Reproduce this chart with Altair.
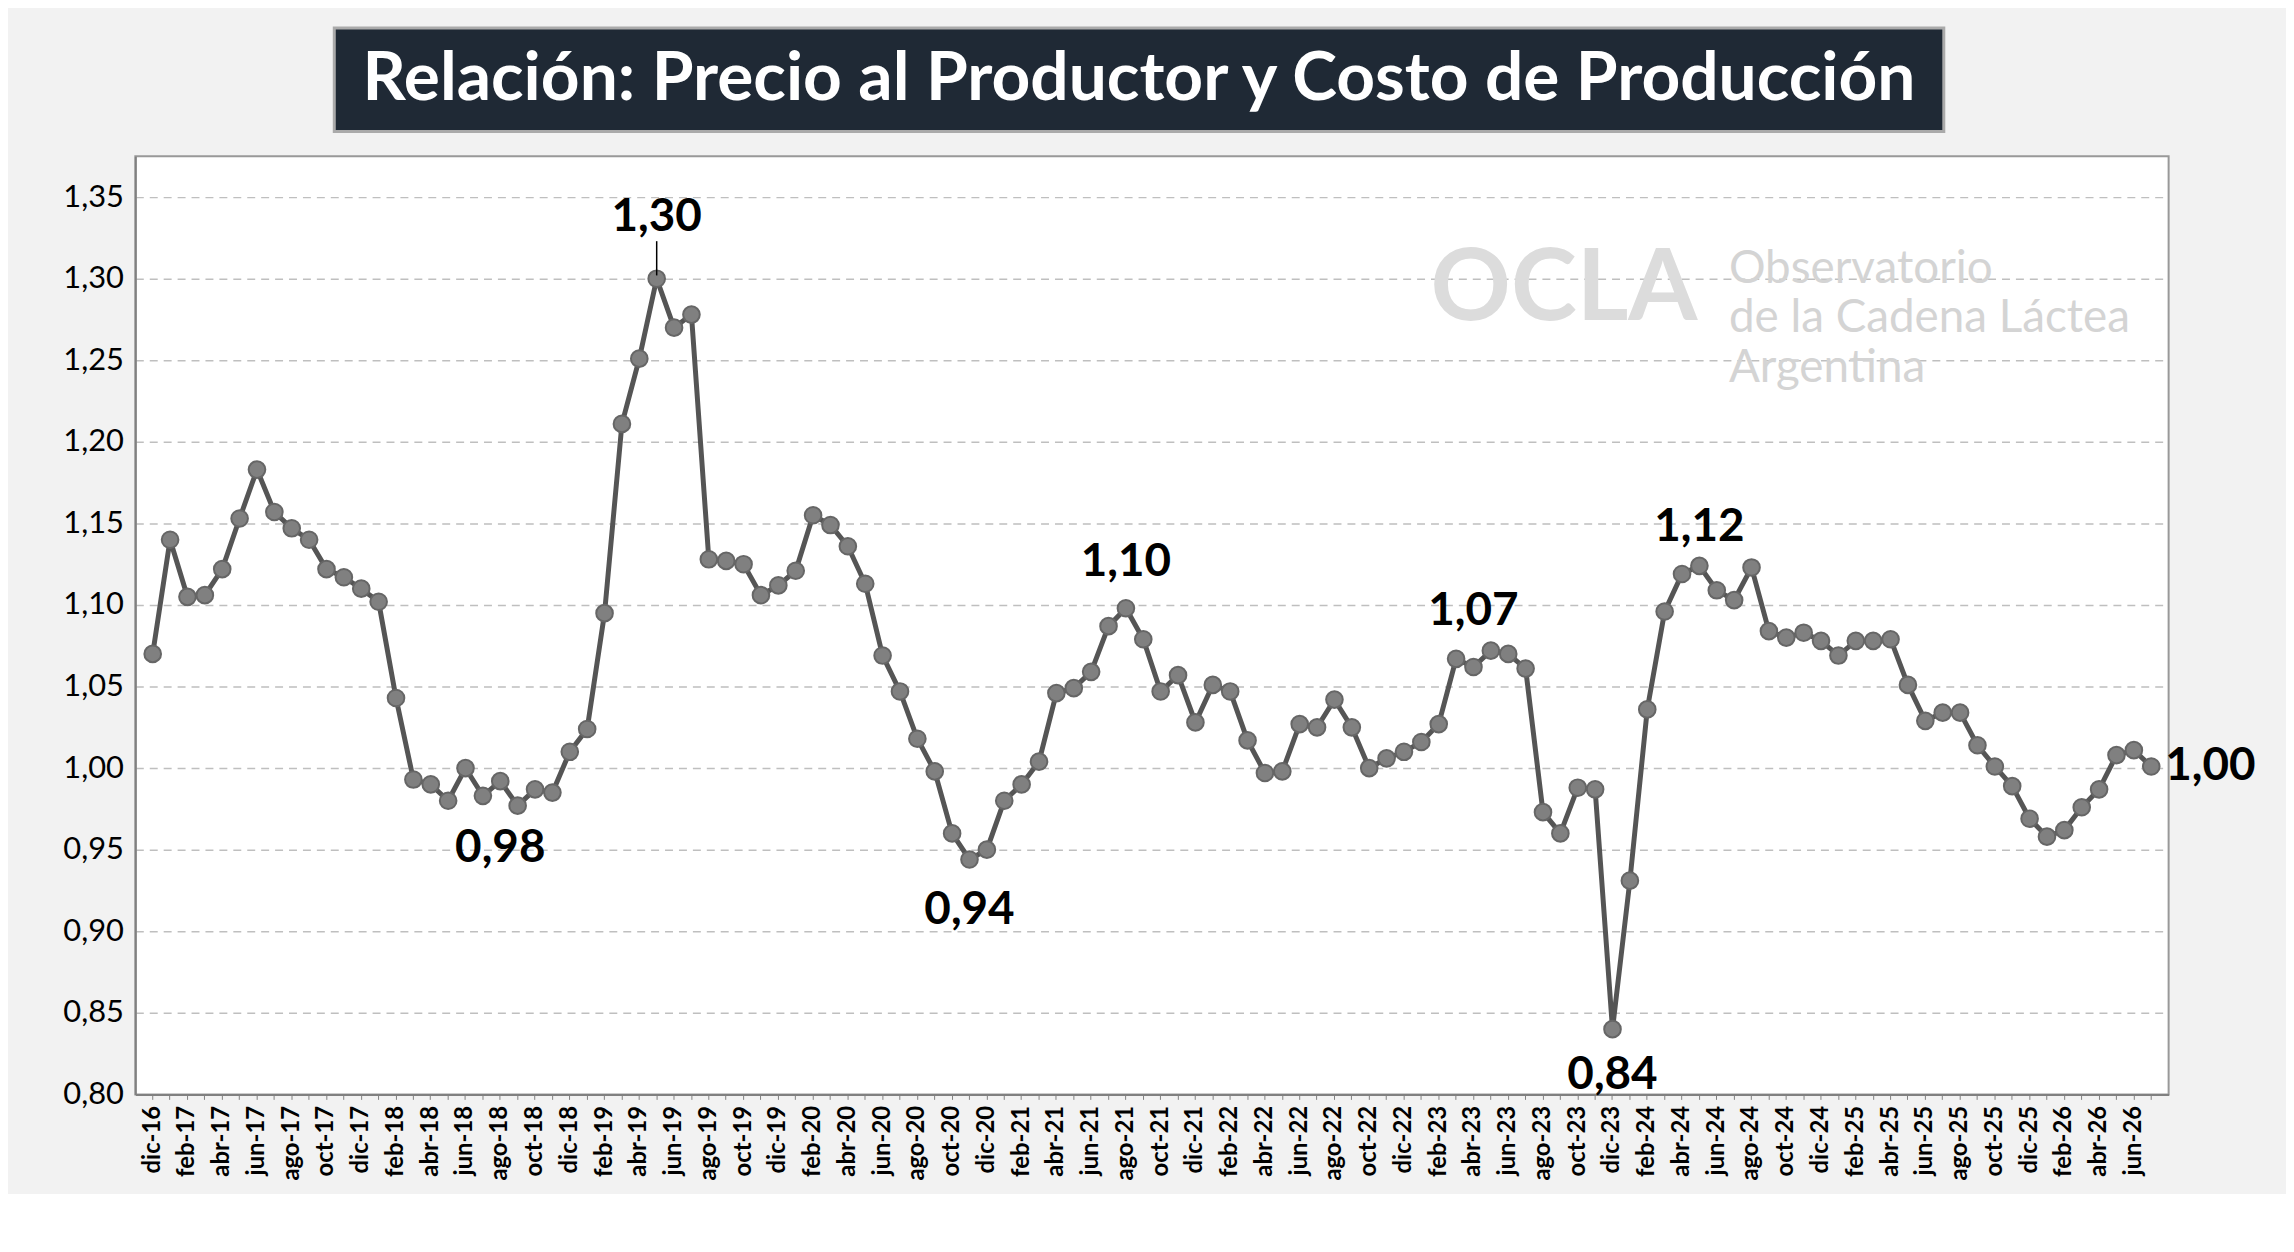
import altair as alt
import pandas as pd

meses = ["ene", "feb", "mar", "abr", "may", "jun", "jul", "ago", "sep", "oct", "nov", "dic"]
etiquetas = ["dic-16"] + [f"{m}-{a}" for a in range(17, 27) for m in meses][:115]

valores = [
    1.070,
    1.140, 1.105, 1.106, 1.122, 1.153, 1.183, 1.157, 1.147, 1.140, 1.122, 1.117, 1.110,
    1.102, 1.043, 0.993, 0.990, 0.980, 1.000, 0.983, 0.992, 0.977, 0.987, 0.985, 1.010,
    1.024, 1.095, 1.211, 1.251, 1.300, 1.270, 1.278, 1.128, 1.127, 1.125, 1.106, 1.112,
    1.121, 1.155, 1.149, 1.136, 1.113, 1.069, 1.047, 1.018, 0.998, 0.960, 0.944, 0.950,
    0.980, 0.990, 1.004, 1.046, 1.049, 1.059, 1.087, 1.098, 1.079, 1.047, 1.057, 1.028,
    1.051, 1.047, 1.017, 0.997, 0.998, 1.027, 1.025, 1.042, 1.025, 1.000, 1.006, 1.010,
    1.016, 1.027, 1.067, 1.062, 1.072, 1.070, 1.061, 0.973, 0.960, 0.988, 0.987, 0.840,
    0.931, 1.036, 1.096, 1.119, 1.124, 1.109, 1.103, 1.123, 1.084, 1.080, 1.083, 1.078,
    1.069, 1.078, 1.078, 1.079, 1.051, 1.029, 1.034, 1.034, 1.014, 1.001, 0.989, 0.969,
    0.958, 0.962, 0.976, 0.987, 1.008, 1.011, 1.001,
]

# etiquetas destacadas
dest_mes = ["may-19", "ago-18", "nov-20", "ago-21", "abr-23", "dic-23", "may-24", "jul-26"]
dest_txt = ["1,30", "0,98", "0,94", "1,10", "1,07", "0,84", "1,12", "1,00"]
dest_val = [1.338, 0.951, 0.913, 1.126, 1.096, 0.812, 1.148, 1.001]

df = pd.DataFrame({"mes": etiquetas, "valor": valores})
dd = pd.DataFrame({"mes": dest_mes, "txt": dest_txt, "valor": dest_val})

fuente = "Lato"
ocultar = "indexof(['ene','mar','may','jul','sep','nov'], split(datum.value,'-')[0]) >= 0 ? '' : datum.label"

x = alt.X("mes:N", sort=etiquetas, title=None,
          scale=alt.Scale(paddingOuter=0.5),
          axis=alt.Axis(labelAngle=-90, labelExpr=ocultar, labelOverlap=False,
                        labelFont=fuente, labelFontSize=24, labelFontWeight="bold",
                        labelColor="black", domainColor="#808080", tickColor="#808080",
                        domainWidth=2, labelPadding=6))
y = alt.Y("valor:Q", title=None,
          scale=alt.Scale(domain=[0.80, 1.375], nice=False, zero=False),
          axis=alt.Axis(values=[0.80 + 0.05 * i for i in range(12)],
                        labelExpr="replace(format(datum.value,'.2f'),'.',',')",
                        labelFont=fuente, labelFontSize=31, labelColor="black",
                        grid=True, gridDash=[8, 6], gridColor="#bfbfbf", gridWidth=1.5,
                        domainColor="#808080", domainWidth=2, ticks=False, labelPadding=12))

base = alt.Chart(df).encode(x=x, y=y)
linea = base.mark_line(color="#555555", strokeWidth=5)
puntos = base.mark_circle(size=280, color="#808080", opacity=1, stroke="#666666", strokeWidth=2)

etiq = alt.Chart(dd).mark_text(font=fuente, fontSize=46, fontWeight="bold", color="black").encode(
    x=alt.X("mes:N", sort=etiquetas), y="valor:Q", text="txt:N")
ult = etiq.transform_filter("datum.mes == 'jul-26'").mark_text(
    font=fuente, fontSize=46, fontWeight="bold", color="black", align="left", dx=14)
etiq = etiq.transform_filter("datum.mes != 'jul-26'")

guia = alt.Chart(pd.DataFrame({"mes": ["may-19"], "valor": [1.302]})).mark_rule(
    color="black", strokeWidth=1.5).encode(
    x=alt.X("mes:N", sort=etiquetas), y=alt.Y("valor:Q"), y2=alt.datum(1.323))

caja = alt.Chart(pd.DataFrame({"t": ["Relación: Precio al Productor y Costo de Producción"]}))
titulo_box = caja.mark_rect(color="#1f2935", stroke="#aaaaaa", strokeWidth=3).encode(
    x=alt.value(200), x2=alt.value(1818), y=alt.value(-129), y2=alt.value(-25))
titulo_txt = caja.mark_text(font=fuente, fontSize=68, fontWeight="bold", color="white").encode(
    x=alt.value(1009), y=alt.value(-77), text="t:N")

logo = alt.Chart(pd.DataFrame({"t": ["OCLA"]})).mark_text(
    font=fuente, fontSize=100, fontWeight="bold", color="#dcdcdc", align="left").encode(
    x=alt.value(1302), y=alt.value(135), text="t:N")
logo2 = alt.Chart(pd.DataFrame({"t": ["Observatorio", "de la Cadena Láctea", "Argentina"],
                                "yy": [113, 163, 213]})).mark_text(
    font=fuente, fontSize=46, color="#d4d4d4", align="left").encode(
    x=alt.value(1602), y=alt.Y("yy:Q", scale=None), text="t:N")

chart = alt.layer(titulo_box, titulo_txt, logo, logo2, linea, puntos, guia, etiq, ult).properties(
    width=2044, height=943, background="#f2f2f2",
    padding={"left": 55, "top": 15, "right": 30, "bottom": 10},
).configure_view(fill="white", stroke="#999999", strokeWidth=2)

chart.save("out.html", embed_options={"renderer": "svg", "actions": False})
